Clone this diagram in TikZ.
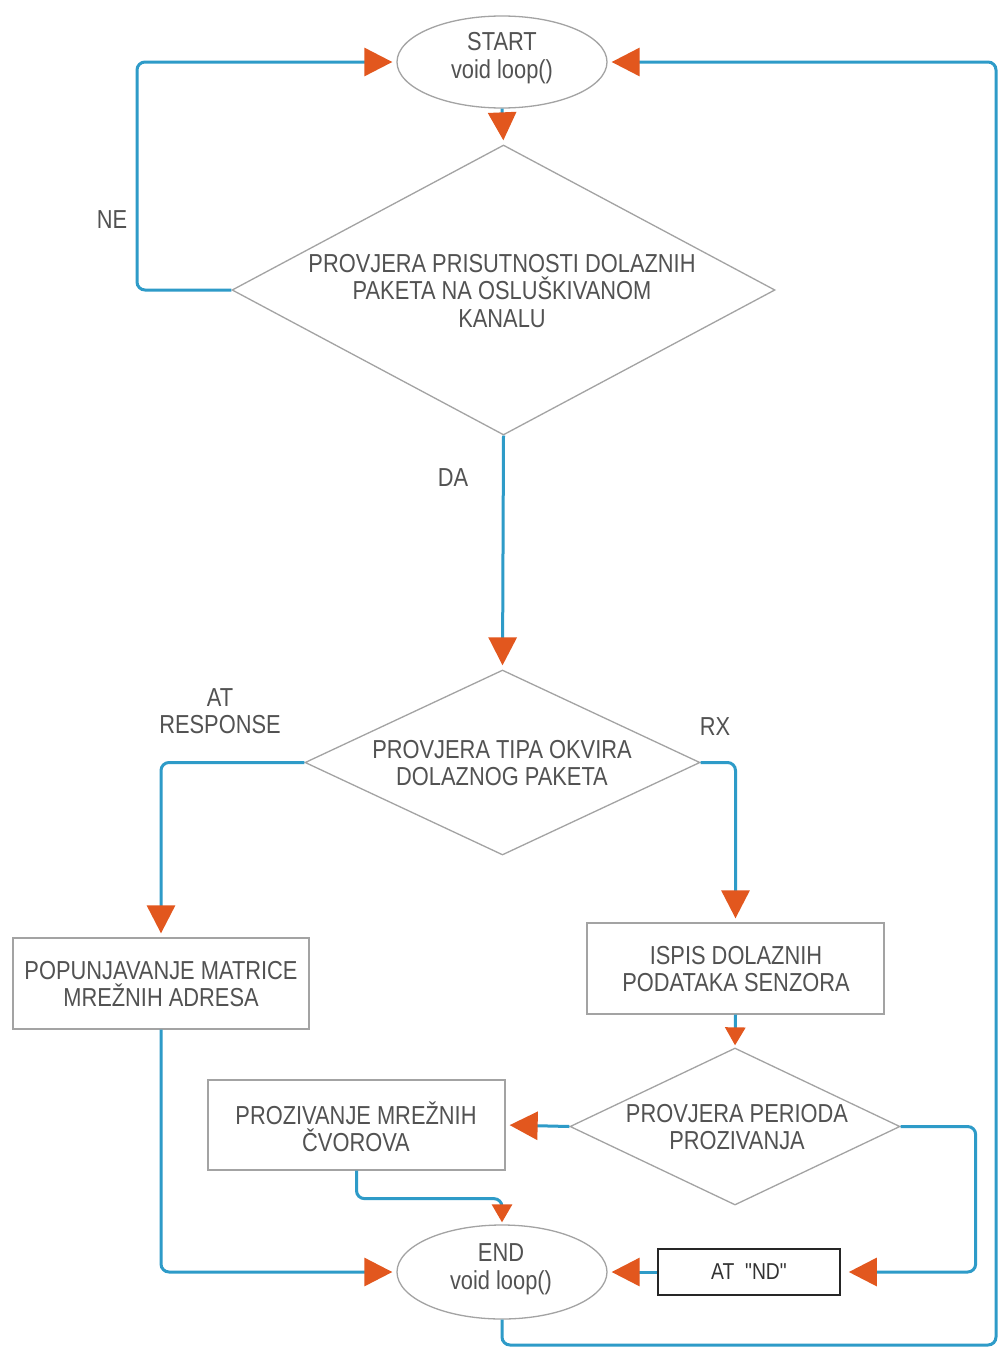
\documentclass[tikz,border=0pt]{standalone}
\usepackage{fontspec}
\setmainfont{Liberation Sans}
\newfontfamily\cfont[FakeStretch=0.84]{Liberation Sans}
\usetikzlibrary{shapes.geometric,arrows.meta}
\definecolor{lnblue}{HTML}{2E9BC8}
\definecolor{tiporange}{HTML}{E2571E}
\definecolor{shapegray}{HTML}{A3A3A3}
\definecolor{txtgray}{HTML}{525252}
\begin{document}
\begin{tikzpicture}[x=1pt,y=-1pt,
  shp/.style={draw=shapegray, line width=1.3pt},
  ell/.style={shp, ellipse, inner sep=0pt},
  dia/.style={shp, diamond, inner sep=0pt},
  box/.style={shp, rectangle, inner sep=0pt},
  txt/.style={text=txtgray, font=\cfont\fontsize{26}{27.5}\selectfont, align=center, inner sep=0pt},
  conn/.style={draw=lnblue, line width=3pt, rounded corners=8pt},
  arr/.style={conn, -{Triangle[length=28pt,width=28pt,color=tiporange]}, shorten >=4pt},
  arrs/.style={conn, -{Triangle[length=18pt,width=20pt,color=tiporange]}, shorten >=2pt},
]
\useasboundingbox (0,0) rectangle (997,1349);
\fill[white] (0,0) rectangle (997,1349);

% nodes
\node[ell, minimum width=210pt, minimum height=92pt] (start) at (502,62) {};
\node[txt] (starttxt) at (502,58) {START\\void loop()};

\node[dia, minimum width=543pt, minimum height=290pt] (d1) at (503.5,290) {};
\node[txt] (d1txt) at (502,291) {PROVJERA PRISUTNOSTI DOLAZNIH\\PAKETA NA OSLUŠKIVANOM\\KANALU};

\node[dia, minimum width=395pt, minimum height=185pt] (d2) at (502.5,762.5) {};
\node[txt] (d2txt) at (502,763) {PROVJERA TIPA OKVIRA\\DOLAZNOG PAKETA};

\node[box, minimum width=296pt, minimum height=91pt] (pop) at (161,983.5) {};
\node[txt] (poptxt) at (161,984) {POPUNJAVANJE MATRICE\\MREŽNIH ADRESA};

\node[box, minimum width=297pt, minimum height=91pt] (ispis) at (735.5,968.5) {};
\node[txt] (ispistxt) at (736,969) {ISPIS DOLAZNIH\\PODATAKA SENZORA};

\node[dia, minimum width=330pt, minimum height=157pt] (d3) at (735,1126.5) {};
\node[txt] (d3txt) at (737,1127) {PROVJERA PERIODA\\PROZIVANJA};

\node[box, minimum width=297pt, minimum height=90pt] (proz) at (356.5,1125) {};
\node[txt] (proztxt) at (356,1127) {PROZIVANJE MREŽNIH\\ČVOROVA};

\node[ell, minimum width=210pt, minimum height=94pt] (endn) at (502,1272) {};
\node[txt] (endtxt) at (501,1269) {END\\void loop()};

\node[draw=black!85, line width=1.6pt, minimum width=182pt, minimum height=46pt, inner sep=0pt,
      font=\cfont\fontsize{23}{26}\selectfont, text=black!80] (atnd) at (749,1272) {AT\ \ "ND"};

% labels
\node[txt] (ne) at (112,220) {NE};
\node[txt] (da) at (453,478) {DA};
\node[txt] (atresp) at (220,711) {AT\\RESPONSE};
\node[txt] (rx) at (715,727) {RX};

% connectors
\draw[arr] (start.south) -- (d1.north);
\draw[arr] (d1.west) -- (137,290) -- (137,62) -- (start.west);
\draw[arr] (d1.south) -- (d2.north);
\draw[arr] (d2.west) -| (pop.north);
\draw[arr] (d2.east) -| (ispis.north);
\draw[arrs] (ispis.south) -- (d3.north);
\draw[arr] (d3.west) -- (proz.east);
\draw[arrs] (proz.south) -- ++(0,28) -| (endn.north);
\draw[arr] (pop.south) |- (endn.west);
\draw[arr, shorten >=8pt] (d3.east) -- ++(75,0) |- (atnd.east);
\draw[arr] (atnd.west) -- (endn.east);
\draw[arr] (endn.south) |- (996,1345) |- (start.east);
\end{tikzpicture}
\end{document}
